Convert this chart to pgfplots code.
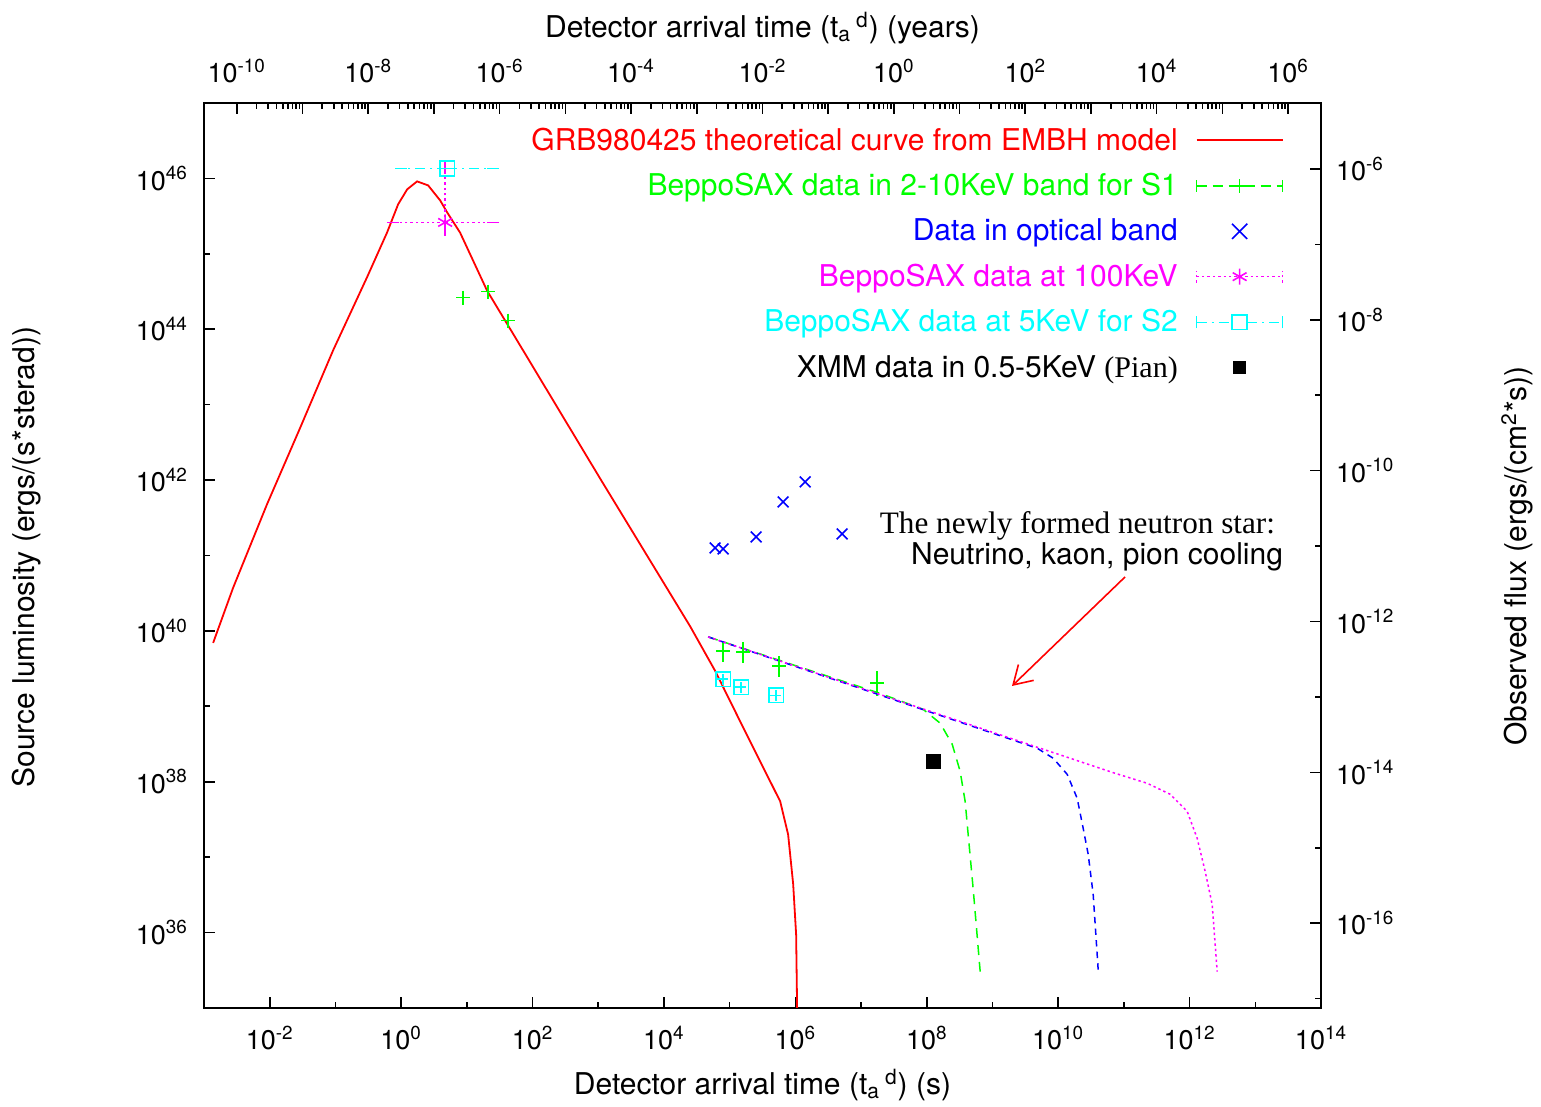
\documentclass[border=0pt]{standalone}
\usepackage{pgfplots}
\pgfplotsset{compat=1.18}
\usepackage{fontspec}
\setmainfont{TeX Gyre Heros}
\newfontfamily\timesfont{Liberation Serif}
\usetikzlibrary{arrows.meta}
\definecolor{gpred}{RGB}{255,0,0}
\definecolor{gpgreen}{RGB}{0,255,0}
\definecolor{gpblue}{RGB}{0,0,255}
\definecolor{gpmag}{RGB}{255,0,255}
\definecolor{gpcyan}{RGB}{0,255,255}
\newcommand{\tp}[1]{10\textsuperscript{#1}}
\newcommand{\lblfont}{\fontsize{15}{18}\selectfont}
\begin{document}
\begin{tikzpicture}[x=1pt,y=1pt,font=\fontsize{13.5}{16}\selectfont]
\path[use as bounding box] (-102,-49.5) rectangle (668.5,504);
% top axis (years)
\begin{axis}[
  at={(0,0)}, anchor=south west, scale only axis, width=558.5pt, height=452.5pt,
  xmode=log, xmin=3.1688e-11, xmax=3.1688e6, ymin=0, ymax=1,
  axis x line*=top, axis y line=none,
  xtick={1e-10,1e-9,1e-8,1e-7,1e-6,1e-5,1e-4,1e-3,1e-2,1e-1,1,1e1,1e2,1e3,1e4,1e5,1e6},
  xticklabels={\tp{-10},{},\tp{-8},{},\tp{-6},{},\tp{-4},{},\tp{-2},{},\tp{0},{},\tp{2},{},\tp{4},{},\tp{6}},
  minor xtick={}, tick align=inside, major tick length=5.5pt,
  axis line style={line width=1pt}, every tick/.style={line width=0.8pt,black},
  xticklabel style={font=\fontsize{13.5}{16}\selectfont, yshift=6.5pt},
  xlabel={Detector arrival time (t\textsubscript{a}\,\textsuperscript{d}) (years)},
  xlabel style={at={(rel axis cs:0.5,1.0829)}, anchor=center, font=\lblfont},
]
\end{axis}
% right axis (flux)
\begin{axis}[
  at={(0,0)}, anchor=south west, scale only axis, width=558.5pt, height=452.5pt,
  ymode=log, ymin=7.499e-18, ymax=7.499e-6, xmin=0, xmax=1,
  axis y line*=right, axis x line=none,
  ytick={1e-16,1e-14,1e-12,1e-10,1e-8,1e-6},
  yticklabels={\tp{-16},\tp{-14},\tp{-12},\tp{-10},\tp{-8},\tp{-6}},
  minor ytick={1e-17,1e-15,1e-13,1e-11,1e-9,1e-7},
  tick align=inside, major tick length=5.5pt, minor tick length=3pt,
  axis line style={line width=1pt}, every tick/.style={line width=0.8pt,black},
  yticklabel style={font=\fontsize{13.5}{16}\selectfont, xshift=4pt},
  ylabel={Observed flux (ergs/(cm\textsuperscript{2}*s))},
  ylabel style={at={(rel axis cs:1.1755,0.4994)}, anchor=center, font=\lblfont},
]
\end{axis}
% main axis
\begin{axis}[
  at={(0,0)}, anchor=south west, scale only axis, width=558.5pt, height=452.5pt,
  xmode=log, ymode=log, xmin=1e-3, xmax=1e14, ymin=1e35, ymax=1e47,
  xtick={1e-2,1,1e2,1e4,1e6,1e8,1e10,1e12,1e14},
  xticklabels={\tp{-2},\tp{0},\tp{2},\tp{4},\tp{6},\tp{8},\tp{10},\tp{12},\tp{14}},
  minor xtick={1e-3,1e-1,1e1,1e3,1e5,1e7,1e9,1e11,1e13},
  ytick={1e36,1e38,1e40,1e42,1e44,1e46},
  yticklabels={\tp{36},\tp{38},\tp{40},\tp{42},\tp{44},\tp{46}},
  minor ytick={1e35,1e37,1e39,1e41,1e43,1e45,1e47},
  xtick pos=left, ytick pos=left, tick align=inside,
  major tick length=5.5pt, minor tick length=3pt,
  axis line style={line width=1pt}, every tick/.style={line width=0.8pt,black},
  xticklabel style={font=\fontsize{13.5}{16}\selectfont, yshift=-5.5pt},
  yticklabel style={font=\fontsize{13.5}{16}\selectfont, xshift=-4.5pt},
  xlabel={Detector arrival time (t\textsubscript{a}\,\textsuperscript{d}) (s)},
  xlabel style={at={(rel axis cs:0.5,-0.085)}, anchor=center, font=\lblfont},
  ylabel={Source luminosity (ergs/(s*sterad))},
  ylabel style={at={(rel axis cs:-0.1585,0.498)}, anchor=center, font=\lblfont},
  legend cell align=right, legend plot pos=right,
  legend style={at={(0.9722,0.982)}, anchor=north east, draw=none, fill=none,
    row sep=6.1pt, column sep=7pt, font=\lblfont},
]
% theoretical curve
\addplot[gpred, line width=0.9pt,
  legend image code/.code={\draw[gpred,line width=0.9pt] (0pt,0pt)--(43pt,0pt);}]
coordinates {
(1.377e-3,6.92e39) (2.77e-3,3.715e40) (9.12e-3,4.79e41) (2.90e-2,4.90e42)
(9.23e-2,5.248e43) (0.3034,4.898e44) (0.612,1.919e45) (0.9,4.52e45)
(1.234,7.14e45) (1.752,9.12e45) (2.576,8.07e45) (3.926,5.11e45)
(5.012,3.548e45) (7.907,1.905e45) (20.37,3.236e44) (58.34,7.079e43)
(1069,1.047e42) (2.506e4,1.148e40) (6.012e4,2.951e39) (1.445e5,6.31e38)
(2.911e5,1.862e38) (5.875e5,5.495e37) (7.762e5,1.995e37) (9.268e5,4.365e36)
(1.028e6,9.333e35) (1.064e6,9.55e34)
};
\addlegendentry{\textcolor{gpred}{GRB980425 theoretical curve from EMBH model}}
% BeppoSAX S1 (2-10 keV)
\addplot[gpgreen, only marks, mark=+, mark size=3.5pt, line width=0.8pt,
  legend image code/.code={
    \draw[gpgreen,line width=0.75pt,dash pattern=on 5pt off 3pt] (0pt,0pt)--(43pt,0pt);
    \draw[gpgreen,solid,line width=0.75pt] (0pt,-3pt)--(0pt,3pt) (43pt,-3pt)--(43pt,3pt)
      (18pt,0pt)--(25pt,0pt) (21.5pt,-3.5pt)--(21.5pt,3.5pt);},
  error bars/.cd, y dir=both, y explicit relative,
  error bar style={solid,line width=0.7pt}, error mark options={mark size=3.2pt,line width=0.7pt}]
coordinates {
(7.96e4,5.40e39) +- (0,0.12)
(1.603e5,5.23e39) +- (0,0.12)
(5.66e5,3.41e39) +- (0,0.12)
(1.758e7,2.03e39) +- (0,0.18)
};
\addlegendentry{\textcolor{gpgreen}{BeppoSAX data in 2-10KeV band for S1}}
\addplot[gpgreen, only marks, mark=+, mark size=3.5pt, line width=0.8pt, forget plot]
coordinates {(8.79,2.63e44) (21.09,3.16e44) (42.56,1.30e44)};
% optical
\addplot[gpblue, only marks, mark=x, mark size=3.8pt, line width=0.8pt,
  legend image code/.code={
    \path[draw=none] (0pt,0pt)--(43pt,0pt);
    \draw[gpblue,solid,line width=0.8pt] (17.7pt,-3.8pt)--(25.3pt,3.8pt) (17.7pt,3.8pt)--(25.3pt,-3.8pt);}]
coordinates {
(6.01e4,1.259e41) (7.96e4,1.219e41) (2.53e5,1.762e41) (6.52e5,5.13e41)
(1.409e6,9.46e41) (5.15e6,1.932e41)
};
\addlegendentry{\textcolor{gpblue}{Data in optical band}}
% BeppoSAX 100 keV
\addplot[gpmag, only marks, mark=asterisk, mark size=4pt, line width=0.8pt,
  legend image code/.code={
    \draw[gpmag,line width=0.75pt,dash pattern=on 1.2pt off 1.5pt] (0pt,0pt)--(43pt,0pt);
    \draw[gpmag,line width=0.75pt,dash pattern=on 1.2pt off 1.5pt] (0pt,-3pt)--(0pt,3pt) (43pt,-3pt)--(43pt,3pt);
    \draw[gpmag,solid,line width=0.8pt] plot[mark=asterisk,mark size=4pt] coordinates {(21.5pt,0pt)};},
  error bars/.cd, x dir=both, x explicit relative, y dir=both, y explicit relative,
  error bar style={line width=0.75pt,dash pattern=on 1.2pt off 1.5pt},
  error mark options={mark size=3pt,line width=0.75pt}]
coordinates {(4.677,2.606e45) += (4.37,4.21) -= (0.839,0.2)};
\addlegendentry{\textcolor{gpmag}{BeppoSAX data at 100KeV}}
% BeppoSAX 5 keV S2
\addplot[gpcyan, only marks, mark=square, mark size=3.7pt, line width=0.8pt,
  legend image code/.code={
    \draw[gpcyan,line width=0.75pt,dash pattern=on 5pt off 2.5pt on 1pt off 2.5pt] (0pt,0pt)--(17.8pt,0pt) (25.2pt,0pt)--(43pt,0pt);
    \draw[gpcyan,solid,line width=0.75pt] (0pt,-3pt)--(0pt,3pt) (43pt,-3pt)--(43pt,3pt);
    \draw[gpcyan,solid,line width=0.8pt] (17.8pt,-3.7pt) rectangle (25.2pt,3.7pt);},
  error bars/.cd, x dir=both, x explicit relative,
  error bar style={line width=0.75pt,dash pattern=on 5pt off 2.5pt on 1pt off 2.5pt},
  error mark options={mark size=3pt,line width=0.75pt}]
coordinates {(5.012,1.358e46) += (4.01,0) -= (0.80,0)};
\addlegendentry{\textcolor{gpcyan}{BeppoSAX data at 5KeV for S2}}
\addplot[gpcyan, only marks, mark=square, mark size=3.7pt, line width=0.8pt, forget plot,
  error bars/.cd, x dir=both, x explicit relative, y dir=both, y explicit relative,
  error bar style={line width=0.7pt}, error mark=none]
coordinates {
(7.96e4,2.29e39) +- (0.2,0.17)
(1.496e5,1.795e39) +- (0.2,0.17)
(5.10e5,1.403e39) +- (0.2,0.17)
};
% XMM
\addplot[black, only marks, mark=square*, mark size=3.4pt,
  legend image code/.code={
    \path[draw=none] (0pt,0pt)--(43pt,0pt);
    \fill[black,draw=none] (18.1pt,-3.4pt) rectangle (24.9pt,3.4pt);}]
coordinates {(1.250e8,1.866e38)};
\addlegendentry{XMM data in 0.5-5KeV {\timesfont (Pian)}}
% cooling curves
\addplot[gpgreen, line width=0.75pt, dash pattern=on 5pt off 3.5pt, forget plot]
coordinates {
(4.71e4,8.32e39) (1.954e7,1.479e39) (8.81e7,9.12e38) (1.60e8,5.97e38)
(2.438e8,3.14e38) (3.22e8,1.374e38) (3.837e8,5.50e37) (4.266e8,2.0e37)
(5.08e8,3.84e36) (6.50e8,3.03e35)
};
\addplot[gpblue, line width=0.75pt, dash pattern=on 3.2pt off 2.6pt, forget plot]
coordinates {
(4.71e4,8.32e39) (4.79e9,2.78e38) (8.39e9,2.05e38) (1.371e10,1.253e38)
(1.945e10,6.03e37) (2.404e10,2.40e37) (2.864e10,1.087e37) (3.41e10,3.20e36)
(4.06e10,3.23e35)
};
\addplot[gpmag, line width=0.75pt, dash pattern=on 1.2pt off 1.5pt, forget plot]
coordinates {
(4.71e4,8.32e39) (6.87e10,1.318e38) (2.265e11,9.53e37) (5.07e11,6.81e37)
(9.18e11,4.05e37) (1.306e12,1.77e37) (1.726e12,6.46e36) (2.208e12,2.355e36)
(2.63e12,3.03e35)
};
\end{axis}
\node[anchor=east, font=\timesfont\fontsize{15.6}{18}\selectfont] at (539,241) {The newly formed neutron star:};
\node[anchor=east, font=\lblfont] at (543,225.5) {Neutrino, kaon, pion cooling};
\draw[gpred, line width=0.8pt, -{Straight Barb[length=9pt,width=11pt]}] (460.5,215.5) -- (404,161);
\end{tikzpicture}
\end{document}
